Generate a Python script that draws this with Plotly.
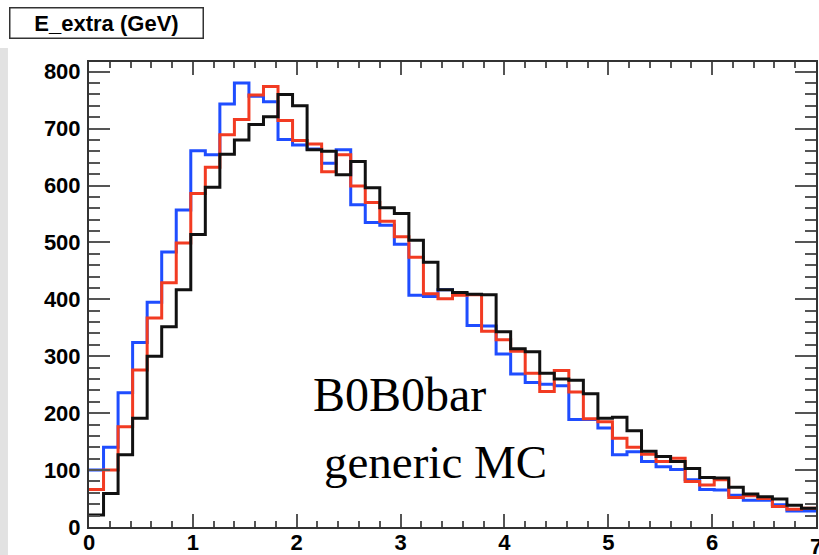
import numpy as np
import plotly.graph_objects as go

# ---- data ----
X_MIN = 0.0
BIN_WIDTH = 0.14
N_BINS = 50

blue_vals = [100, 140, 236, 324, 395, 483, 557, 661, 654, 743,
             780, 757, 747, 681, 671, 664, 639, 663, 566, 535,
             530, 497, 407, 405, 417, 410, 354, 353, 304, 269,
             254, 251, 248, 189, 189, 174, 127, 132, 115, 106,
             101, 83, 66, 65, 56, 47, 47, 39, 28, 28]

red_vals = [66, 100, 176, 276, 367, 429, 499, 586, 632, 689,
            716, 759, 774, 714, 679, 673, 624, 654, 599, 570,
            537, 510, 474, 410, 401, 407, 408, 344, 329, 309,
            270, 238, 275, 237, 190, 185, 156, 140, 128, 115,
            121, 80, 74, 83, 52, 55, 50, 36, 31, 33]

black_vals = [21, 59, 127, 191, 300, 352, 417, 514, 597, 655,
              680, 707, 721, 760, 740, 663, 660, 619, 642, 596,
              561, 551, 504, 465, 417, 412, 409, 408, 343, 313,
              308, 270, 260, 258, 234, 191, 193, 169, 133, 124,
              115, 103, 87, 86, 70, 58, 53, 49, 38, 33]

x_ticks = [0, 1, 2, 3, 4, 5, 6]
x_last_tick = 7
y_ticks = [0, 100, 200, 300, 400, 500, 600, 700, 800]

title_text = "E_extra (GeV)"
label1 = "B0B0bar"
label2 = "generic MC"

edges = X_MIN + BIN_WIDTH * np.arange(N_BINS + 1)


def step_trace(vals, color):
    return go.Scatter(
        x=list(edges),
        y=list(vals) + [vals[-1]],
        mode="lines",
        line=dict(color=color, width=3, shape="hv"),
        showlegend=False,
        hoverinfo="skip",
    )


fig = go.Figure()
fig.add_trace(step_trace(blue_vals, "#1f4dff"))
fig.add_trace(step_trace(red_vals, "#f23b22"))
fig.add_trace(step_trace(black_vals, "#111111"))

tickfont = dict(family="Liberation Sans, Arial, sans-serif", size=22, color="black", weight="bold")

fig.update_layout(
    width=819, height=555, autosize=False,
    margin=dict(l=89, r=3, t=62, b=28),
    paper_bgcolor="white", plot_bgcolor="white",
    xaxis=dict(
        range=[0, 7], tickvals=x_ticks + [x_last_tick], ticktext=[str(v) for v in x_ticks] + [""],
        ticks="inside", ticklen=13, tickwidth=1.5, tickcolor="#555",
        minor=dict(dtick=0.2, ticks="inside", ticklen=6, tickwidth=1.5, tickcolor="#555"),
        showline=True, linecolor="#333", linewidth=2, mirror="ticks",
        showgrid=False, zeroline=False, tickfont=tickfont, automargin=False,
        ticklabelstandoff=-5,
    ),
    yaxis=dict(
        range=[0, 817], tickvals=y_ticks, ticktext=[str(v) for v in y_ticks],
        ticks="inside", ticklen=21, tickwidth=1.5, tickcolor="#555",
        minor=dict(dtick=20, ticks="inside", ticklen=11, tickwidth=1.5, tickcolor="#555"),
        showline=True, linecolor="#333", linewidth=2, mirror="ticks",
        showgrid=False, zeroline=False, tickfont=tickfont, automargin=False,
        ticklabelstandoff=2,
    ),
    shapes=[
        dict(type="rect", xref="paper", yref="paper",
             x0=-0.1231, x1=-0.1115, y0=-0.07, y1=1.03,
             fillcolor="#e2e2e2", line=dict(width=0), layer="below"),
    ],
    annotations=[
        dict(text=str(x_last_tick), xref="x", yref="paper",
             x=x_last_tick, y=-0.0135, xanchor="center", yanchor="top",
             showarrow=False, borderpad=0, font=tickfont),
        dict(text=title_text, xref="paper", yref="paper",
             x=-0.1094, y=1.0839, xanchor="left", yanchor="middle",
             showarrow=False, width=190, height=27, align="center",
             bordercolor="#333", borderwidth=1.5, borderpad=1, bgcolor="white",
             font=dict(family="Liberation Sans, Arial, sans-serif", size=22, color="black", weight="bold")),
        dict(text=label1, xref="paper", yref="paper",
             x=0.305, y=0.286, xanchor="left", yanchor="middle", showarrow=False,
             font=dict(family="Liberation Serif, Times New Roman, serif", size=48, color="black")),
        dict(text=label2, xref="paper", yref="paper",
             x=0.320, y=0.139, xanchor="left", yanchor="middle", showarrow=False,
             font=dict(family="Liberation Serif, Times New Roman, serif", size=47, color="black")),
    ],
)

fig.write_html("out.html", config={"displayModeBar": False},
               post_script="document.body.style.margin='0';document.body.style.overflow='hidden';")
